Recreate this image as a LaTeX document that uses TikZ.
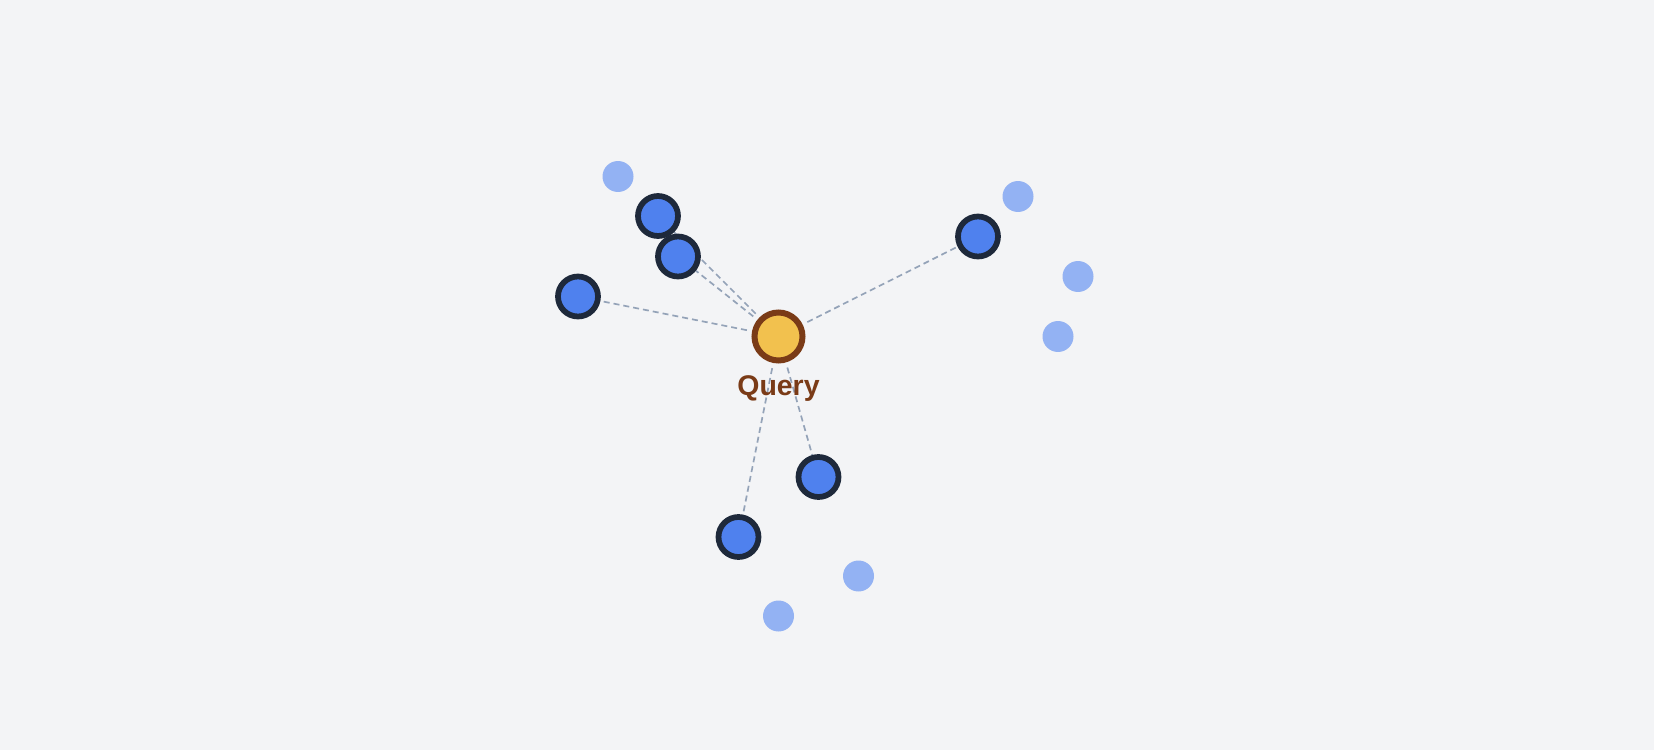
\documentclass[tikz,border=0pt]{standalone}
\usepackage{fontspec}
\setmainfont{Liberation Sans}
\pgfdeclarelayer{bg}
\pgfsetlayers{bg,main}
\definecolor{bgcol}{HTML}{F3F4F6}
\definecolor{hitfill}{HTML}{4F81EE}
\definecolor{hitline}{HTML}{1E293B}
\definecolor{farfill}{HTML}{93B2F3}
\definecolor{qfill}{HTML}{F2C14E}
\definecolor{qline}{HTML}{7A3B17}
\definecolor{linkcol}{HTML}{94A3B8}

\begin{document}
\begin{tikzpicture}[x=0.02cm, y=-0.02cm,
    hit/.style={circle, fill=hitfill, draw=hitline, line width=0.115cm, minimum size=0.8cm, inner sep=0pt},
    far/.style={circle, fill=farfill, minimum size=0.62cm, inner sep=0pt},
    querynode/.style={circle, fill=qfill, draw=qline, line width=0.12cm, minimum size=0.96cm, inner sep=0pt},
    link/.style={linkcol, line width=0.034cm, dash pattern=on 0.12cm off 0.08cm, shorten <=3pt}]

        % Query point
        \node[querynode] (q) at (778.5,336.5) {};
        \node[qline, font=\fontsize{16.2}{19}\selectfont\bfseries, anchor=base] (qlabel) at (778.5,395) {Query};

        % Nearest neighbours
        \node[hit] (n1) at (658,216) {};
        \node[hit] (n2) at (678,256.5) {};
        \node[hit] (n3) at (578,296.5) {};
        \node[hit] (n4) at (978,236.5) {};
        \node[hit] (n5) at (818.5,477) {};
        \node[hit] (n6) at (738.5,537) {};

        % Other points
        \node[far] (f1) at (618,176.5) {};
        \node[far] (f2) at (1018,196.5) {};
        \node[far] (f3) at (1078,276.5) {};
        \node[far] (f4) at (1058,336.5) {};
        \node[far] (f5) at (858.5,576) {};
        \node[far] (f6) at (778.5,616) {};

        % Links from query to neighbours
        \begin{pgfonlayer}{bg}
          \fill[bgcol] (0,0) rectangle (1654,750);
          \foreach \n in {n1,n2,n3,n4,n5,n6}
            \draw[link] (q) -- (\n);
        \end{pgfonlayer}
      \end{tikzpicture}
\end{document}
